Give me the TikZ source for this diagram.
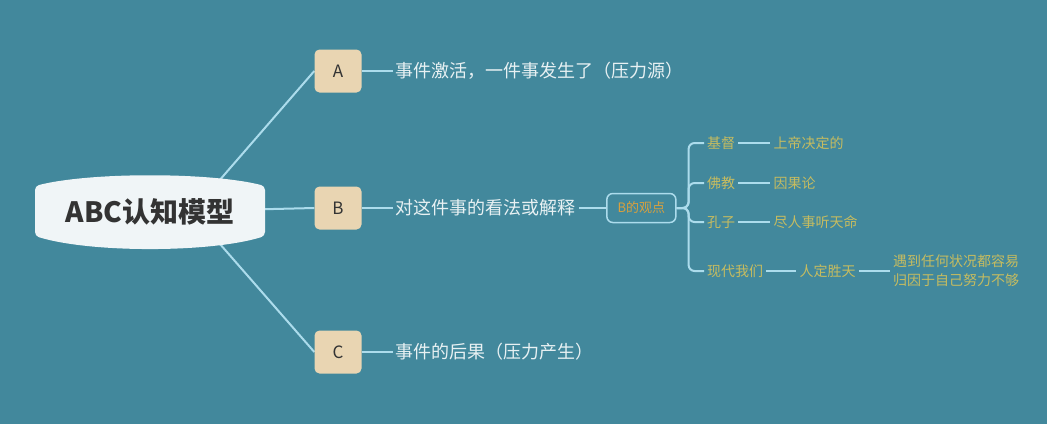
\documentclass[tikz,border=0pt]{standalone}
\usepackage{fontspec}
\setmainfont{Noto Sans CJK SC}
\usetikzlibrary{positioning, backgrounds}
\usepackage{xcolor}
\definecolor{bgteal}{RGB}{66,136,156}
\definecolor{boxtan}{RGB}{233,213,178}
\definecolor{linkblue}{RGB}{172,220,236}
\definecolor{paletext}{RGB}{232,241,243}
\definecolor{goldtext}{RGB}{216,160,62}
\definecolor{olivetext}{RGB}{198,188,96}
\definecolor{rootfill}{RGB}{240,245,247}

\begin{document}
\begin{tikzpicture}[
    x=1pt, y=-1pt,
    node distance=30pt and 31pt,
    letter/.style={rectangle, rounded corners=5pt, fill=boxtan, minimum width=47pt,
                minimum height=43pt, font=\fontsize{17}{20}\selectfont, text=black!80},
    branch/.style={inner sep=3pt, font=\fontsize{18}{21}\selectfont, text=paletext},
    view/.style={rectangle, draw=linkblue, line width=1.5pt, rounded corners=6pt,
                minimum width=69pt, minimum height=29pt, font=\fontsize{13}{15}\selectfont, text=goldtext},
    leaf/.style={inner sep=3pt, font=\fontsize{14}{17}\selectfont, text=olivetext},
    link/.style={draw=linkblue, line width=2pt}
]
\useasboundingbox (0,0) rectangle (1047,424);
\node[minimum width=230pt, minimum height=72pt, font=\bfseries\fontsize{28}{32}\selectfont,
      text=black!80] (root) at (150,212) {ABC认知模型};
\coordinate (hub) at ([xshift=42pt]root.center);

\node[letter] (A) at (338,71) {A};
\node[letter] (B) at (338,208) {B};
\node[letter] (C) at (338,352) {C};
\node[branch, right=of A] (textA) {事件激活，一件事发生了（压力源）};
\node[branch, right=of B] (textB) {对这件事的看法或解释};
\node[branch, right=of C] (textC) {事件的后果（压力产生）};
\node[view, right=27pt of textB] (bview) {B的观点};

% views of B
\node[leaf, anchor=west] (christ) at (704,143) {基督};
\node[leaf, anchor=west] (buddha) at (704,183) {佛教};
\node[leaf, anchor=west] (confu) at (704,222) {孔子};
\node[leaf, anchor=west] (modern) at (704,271) {现代我们};
\node[leaf, right=32pt of christ] (god) {上帝决定的};
\node[leaf, right=32pt of buddha] (karma) {因果论};
\node[leaf, right=32pt of confu] (fate) {尽人事听天命};
\node[leaf, right=30pt of modern] (will) {人定胜天};
\node[leaf, right=31pt of will, align=left, font=\fontsize{14}{19}\selectfont] (blame) {遇到任何状况都容易\\归因于自己努力不够};

\begin{scope}[on background layer]
\fill[bgteal] (0,0) rectangle (1047,424);
\draw[link] (hub) -- (A.west);
\draw[link] (root.center) -- (B.west);
\draw[link] (hub) -- (C.west);
\draw[link] (A) -- (textA);
\draw[link] (B) -- (textB);
\draw[link] (C) -- (textC);
\draw[link] (textB) -- (bview);
\foreach \k in {christ, buddha, confu, modern}
    \draw[link, rounded corners=6pt] (bview.east) -- ++(12,0) |- (\k.west);
\draw[link] (christ) -- (god);
\draw[link] (buddha) -- (karma);
\draw[link] (confu) -- (fate);
\draw[link] (modern) -- (will);
\draw[link] (will) -- (blame);
% root badge
\fill[rootfill, rounded corners=4pt] (35,186) .. controls (90,172) and (210,172) .. (265,186)
    -- (265,236) .. controls (210,253) and (90,253) .. (35,236) -- cycle;
\end{scope}
\end{tikzpicture}
\end{document}
